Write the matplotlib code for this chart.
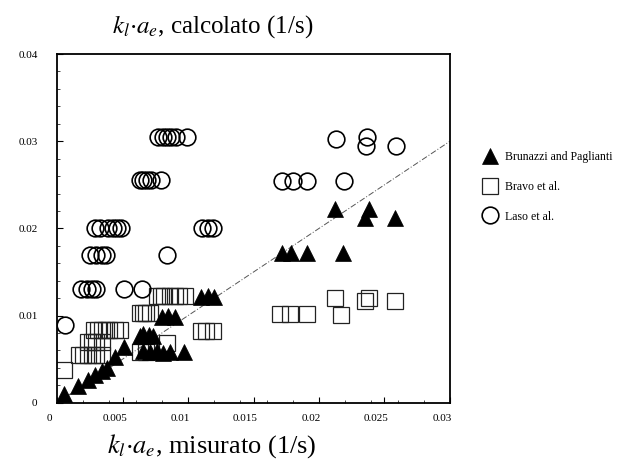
import matplotlib
matplotlib.use("Agg")
import matplotlib.pyplot as plt
import matplotlib.transforms as mtransforms
from matplotlib.ticker import MultipleLocator

plt.rcParams['font.family'] = ['Liberation Serif', 'DejaVu Serif']
plt.rcParams['mathtext.fontset'] = 'stix'

# Brunazzi and Paglianti (triangles)
bru_x = [0.0005, 0.0016, 0.0024, 0.0029, 0.0034, 0.0038, 0.0044, 0.0051,
         0.0063, 0.0066, 0.0070, 0.0073,
         0.0066, 0.0071, 0.0076, 0.0081, 0.0086, 0.0097,
         0.0080, 0.0085, 0.0090,
         0.0110, 0.0115, 0.0120,
         0.0172, 0.0179, 0.0191, 0.0218,
         0.0212, 0.0238, 0.0235, 0.0258]
bru_y = [0.0010, 0.0019, 0.0026, 0.0032, 0.0036, 0.0040, 0.0053, 0.0064,
         0.0077, 0.0079, 0.0078, 0.0077,
         0.0059, 0.0058, 0.0059, 0.0057, 0.0058, 0.0058,
         0.0098, 0.0099, 0.0098,
         0.0121, 0.0122, 0.0121,
         0.0172, 0.0172, 0.0172, 0.0172,
         0.0222, 0.0222, 0.0212, 0.0212]

# Bravo et al. (squares)
bra_x = [0.0076, 0.0079, 0.0082, 0.0086, 0.0090, 0.0093, 0.0098,
         0.0063, 0.0066, 0.0068, 0.0071,
         0.0028, 0.0031, 0.0034, 0.0037, 0.0040, 0.0044, 0.0048,
         0.0110, 0.0114, 0.0119,
         0.0024, 0.0027, 0.0030, 0.0034, 0.0084,
         0.0017, 0.0020, 0.0024, 0.0027, 0.0030, 0.0034, 0.0063, 0.0068,
         0.0005,
         0.0170, 0.0178, 0.0191, 0.0212, 0.0217, 0.0235, 0.0238, 0.0258]
bra_y = [0.0122, 0.0122, 0.0122, 0.0122, 0.0122, 0.0122, 0.0122,
         0.0103, 0.0103, 0.0103, 0.0103,
         0.0083, 0.0083, 0.0083, 0.0083, 0.0083, 0.0083, 0.0083,
         0.0082, 0.0082, 0.0082,
         0.0070, 0.0070, 0.0070, 0.0070, 0.0069,
         0.0055, 0.0055, 0.0055, 0.0055, 0.0055, 0.0055, 0.0058, 0.0058,
         0.0038,
         0.0102, 0.0102, 0.0102, 0.0120, 0.0101, 0.0117, 0.0120, 0.0117]

# Laso et al. (circles)
las_x = [0.0077, 0.0081, 0.0084, 0.0087, 0.0091, 0.0099,
         0.0063, 0.0066, 0.0069, 0.0072, 0.0079,
         0.0029, 0.0033, 0.0039, 0.0043, 0.0046, 0.0049, 0.0111, 0.0115, 0.0119,
         0.0025, 0.0030, 0.0034, 0.0037, 0.0084,
         0.0018, 0.0023, 0.0027, 0.0030, 0.0051, 0.0065,
         0.0006,
         0.0172, 0.0180, 0.0191, 0.0219,
         0.0213, 0.0237, 0.0236, 0.0259]
las_y = [0.0305, 0.0305, 0.0305, 0.0305, 0.0305, 0.0305,
         0.0256, 0.0256, 0.0256, 0.0256, 0.0256,
         0.0201, 0.0201, 0.0201, 0.0201, 0.0201, 0.0201, 0.0201, 0.0201, 0.0201,
         0.0169, 0.0169, 0.0169, 0.0169, 0.0169,
         0.0131, 0.0131, 0.0131, 0.0131, 0.0131, 0.0131,
         0.0089,
         0.0254, 0.0254, 0.0254, 0.0254,
         0.0303, 0.0305, 0.0294, 0.0295]

diag = [0.0, 0.03]

fig = plt.figure(figsize=(6.41, 4.70), dpi=100)
ax = fig.add_axes([0.089, 0.143, 0.613, 0.742])

ax.plot(diag, diag, color='#555555', lw=0.7, ls=(0, (6, 2, 1, 2)), zorder=1)
ax.plot(bra_x, bra_y, 's', ms=11.5, mfc='none', mec='#222222', mew=0.9,
        ls='none', label='Bravo et al.', zorder=2)
ax.plot(las_x, las_y, 'o', ms=12, mfc='none', mec='black', mew=1.2,
        ls='none', label='Laso et al.', zorder=2)
ax.plot(bru_x, bru_y, '^', ms=11.5, mfc='black', mec='black', mew=0.5,
        ls='none', label='Brunazzi and Paglianti', zorder=3)

ax.set_xlim(0, 0.03)
ax.set_ylim(0, 0.04)
ax.xaxis.set_minor_locator(MultipleLocator(0.002))
ax.yaxis.set_minor_locator(MultipleLocator(0.002))
ax.set_xticks([0, 0.005, 0.01, 0.015, 0.02, 0.025, 0.03])
ax.set_xticklabels(['0', '0.005', '0.01', '0.015', '0.02', '0.025', '0.03'])
ax.set_yticks([0, 0.01, 0.02, 0.03, 0.04])
ax.set_yticklabels(['0', '0.01', '0.02', '0.03', '0.04'])
ax.tick_params(which='both', direction='in', labelsize=8)
ax.tick_params(which='major', length=4, width=0.8)
ax.tick_params(axis='x', which='major', pad=8)
ax.tick_params(axis='y', which='major', pad=14)
ax.tick_params(which='minor', length=2, width=0.5)
shift = mtransforms.ScaledTranslation(-0.08, 0, fig.dpi_scale_trans)
for lab in ax.get_xticklabels():
    lab.set_transform(lab.get_transform() + shift)
for s in ax.spines.values():
    s.set_linewidth(1.3)

h, l = ax.get_legend_handles_labels()
order = [2, 0, 1]
ax.legend([h[i] for i in order], [l[i] for i in order],
          loc='upper left', bbox_to_anchor=(1.071, 0.735), frameon=False,
          fontsize=8.5, handletextpad=0.7, labelspacing=1.5, markerscale=1.0,
          handlelength=1.2, borderaxespad=0)

fig.text(0.175, 0.93, r'$k_l{\cdot}a_e$, calcolato (1/s)', fontsize=18,
         va='baseline')
fig.text(0.331, 0.038, r'$k_l{\cdot}a_e$, misurato (1/s)', fontsize=19,
         ha='center', va='baseline')

fig.savefig('out.png', dpi=100)
